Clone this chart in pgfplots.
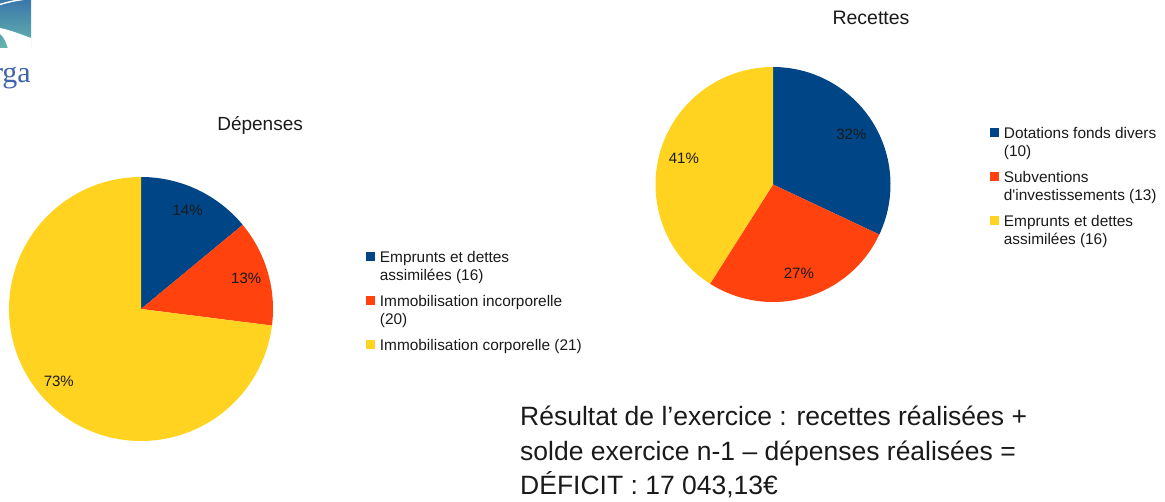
\documentclass[border=0pt]{standalone}
\usepackage{pgfplots}
\pgfplotsset{compat=1.18}
\usepackage{pgfplotstable}
\usepackage{fontspec}
\setmainfont{Liberation Sans}
\newfontfamily\logofont{Liberation Serif}
\definecolor{cblue}{HTML}{004586}
\definecolor{cred}{HTML}{FF420E}
\definecolor{cyellow}{HTML}{FFD320}
\definecolor{logoblue}{HTML}{3F64AD}
\definecolor{logotop}{HTML}{3A78AA}
\definecolor{logobot}{HTML}{66B6AE}
\definecolor{txt}{HTML}{1A1A1A}

% Depenses (percent of total)
\pgfplotstableread{
pct
14
13
73
}\depenses
% Recettes (percent of total)
\pgfplotstableread{
pct
32
27
41
}\recettes

% legend rows: first line of a later entry gets extra height (gap between entries)
\newcommand\gapD{\rule{0pt}{20.8pt}}
\newcommand\gapR{\rule{0pt}{20.8pt}}

\pgfplotsset{
  piechart/.style={hide axis, scale only axis, clip=false,
    xmin=-1, xmax=1, ymin=-1, ymax=1, anchor=center},
  legend image code/.code={\fill[#1] (0pt,2pt) rectangle (9pt,11pt);},
}

\begin{document}
\begin{tikzpicture}
\path[use as bounding box] (0pt,0pt) rectangle (1165pt,501pt);

% ---- logo (partial, top left) ----
\shade[top color=logotop, bottom color=logobot] (0pt,453pt) rectangle (31pt,501pt);
\draw[white, line width=1.4pt] (0pt,496.5pt) .. controls (8pt,499pt) and (15pt,500.5pt) .. (23pt,501.5pt);
\fill[white] (0pt,473pt) .. controls (10pt,471pt) and (20pt,467pt) .. (31pt,463pt)
   -- (31.5pt,452pt) -- (8pt,452pt) .. controls (6pt,460pt) and (3pt,465pt) .. (0pt,467pt) -- cycle;
\node[anchor=base east, inner sep=0pt, text=logoblue, font=\logofont\fontsize{30}{30}\selectfont] at (31pt,418pt) {rga};

% ---- angles from the data ----
\pgfplotstablegetelem{0}{pct}\of\depenses \let\dpA\pgfplotsretval
\pgfplotstablegetelem{1}{pct}\of\depenses \let\dpB\pgfplotsretval
\pgfplotstablegetelem{2}{pct}\of\depenses \let\dpC\pgfplotsretval
\pgfmathsetmacro\dA{90-3.6*\dpA}
\pgfmathsetmacro\dB{\dA-3.6*\dpB}
\pgfmathsetmacro\dC{\dB-3.6*\dpC}
\pgfmathsetmacro\dmA{(90+\dA)/2}
\pgfmathsetmacro\dmB{(\dA+\dB)/2}
\pgfmathsetmacro\dmC{(\dB+\dC)/2}

\pgfplotstablegetelem{0}{pct}\of\recettes \let\rpA\pgfplotsretval
\pgfplotstablegetelem{1}{pct}\of\recettes \let\rpB\pgfplotsretval
\pgfplotstablegetelem{2}{pct}\of\recettes \let\rpC\pgfplotsretval
\pgfmathsetmacro\rA{90-3.6*\rpA}
\pgfmathsetmacro\rB{\rA-3.6*\rpB}
\pgfmathsetmacro\rC{\rB-3.6*\rpC}
\pgfmathsetmacro\rmA{(90+\rA)/2}
\pgfmathsetmacro\rmB{(\rA+\rB)/2}
\pgfmathsetmacro\rmC{(\rB+\rC)/2}

% ---- Dépenses ----
\begin{axis}[piechart, at={(141pt,192pt)}, width=264pt, height=264pt,
  title={Dépenses},
  title style={at={(0.951,1.155)}, anchor=base, inner sep=0pt,
    font=\fontsize{19}{23}\selectfont, text=txt},
  legend style={at={(1.352,0.728)}, anchor=north west, draw=none, fill=none,
    inner sep=0pt, outer sep=0pt, row sep=0pt, column sep=3pt,
    font=\fontsize{15.4}{17.3}\selectfont, text=txt,
    cells={anchor=base west, inner sep=0pt}}]
\addplot[fill=cblue, draw=none, domain=\dA:90, samples=60, variable=\t]
  ({cos(\t)},{sin(\t)}) -- (0,0) -- cycle;
\addlegendentry{\strut Emprunts et dettes}
\addlegendimage{empty legend}
\addlegendentry{\strut assimilées (16)}
\addplot[fill=cred, draw=none, domain=\dB:\dA, samples=60, variable=\t]
  ({cos(\t)},{sin(\t)}) -- (0,0) -- cycle;
\addlegendentry{\strut\gapD Immobilisation incorporelle}
\addlegendimage{empty legend}
\addlegendentry{\strut (20)}
\addplot[fill=cyellow, draw=none, domain=\dC:\dB, samples=200, variable=\t]
  ({cos(\t)},{sin(\t)}) -- (0,0) -- cycle;
\addlegendentry{\strut\gapD Immobilisation corporelle (21)}
\node[font=\fontsize{15}{18}\selectfont, text=txt] at (axis cs:{0.83*cos(\dmA)},{0.83*sin(\dmA)}) {\dpA\%};
\node[font=\fontsize{15}{18}\selectfont, text=txt] at (axis cs:{0.83*cos(\dmB)},{0.83*sin(\dmB)}) {\dpB\%};
\node[font=\fontsize{15}{18}\selectfont, text=txt] at (axis cs:{0.83*cos(\dmC)},{0.83*sin(\dmC)}) {\dpC\%};
\end{axis}

% ---- Recettes ----
\begin{axis}[piechart, at={(773pt,316.5pt)}, width=235pt, height=235pt,
  title={Recettes},
  title style={at={(0.917,1.157)}, anchor=base, inner sep=0pt,
    font=\fontsize{19.5}{23}\selectfont, text=txt},
  legend style={at={(1.423,0.756)}, anchor=north west, draw=none, fill=none,
    inner sep=0pt, outer sep=0pt, row sep=0pt, column sep=3pt,
    font=\fontsize{15.4}{17.6}\selectfont, text=txt,
    cells={anchor=base west, inner sep=0pt}}]
\addplot[fill=cblue, draw=none, domain=\rA:90, samples=100, variable=\t]
  ({cos(\t)},{sin(\t)}) -- (0,0) -- cycle;
\addlegendentry{\strut Dotations fonds divers}
\addlegendimage{empty legend}
\addlegendentry{\strut (10)}
\addplot[fill=cred, draw=none, domain=\rB:\rA, samples=100, variable=\t]
  ({cos(\t)},{sin(\t)}) -- (0,0) -- cycle;
\addlegendentry{\strut\gapR Subventions}
\addlegendimage{empty legend}
\addlegendentry{\strut d\textquotesingle investissements (13)}
\addplot[fill=cyellow, draw=none, domain=\rC:\rB, samples=120, variable=\t]
  ({cos(\t)},{sin(\t)}) -- (0,0) -- cycle;
\addlegendentry{\strut\gapR Emprunts et dettes}
\addlegendimage{empty legend}
\addlegendentry{\strut assimilées (16)}
\node[font=\fontsize{15}{18}\selectfont, text=txt] at (axis cs:{0.79*cos(\rmA)},{0.79*sin(\rmA)}) {\rpA\%};
\node[font=\fontsize{15}{18}\selectfont, text=txt] at (axis cs:{0.79*cos(\rmB)},{0.79*sin(\rmB)}) {\rpB\%};
\node[font=\fontsize{15}{18}\selectfont, text=txt] at (axis cs:{0.79*cos(\rmC)},{0.79*sin(\rmC)}) {\rpC\%};
\end{axis}

% ---- result text ----
\begin{scope}[every node/.style={anchor=base west, inner sep=0pt, text=txt, font=\fontsize{26.5}{34}\selectfont}]
\node at (520pt,75pt) {Résultat de l’exercice : recettes réalisées +};
\node at (520pt,41pt) {solde exercice n-1 – dépenses réalisées =};
\node at (520pt,7pt) {DÉFICIT : 17 043,13€};
\end{scope}
\end{tikzpicture}
\end{document}
